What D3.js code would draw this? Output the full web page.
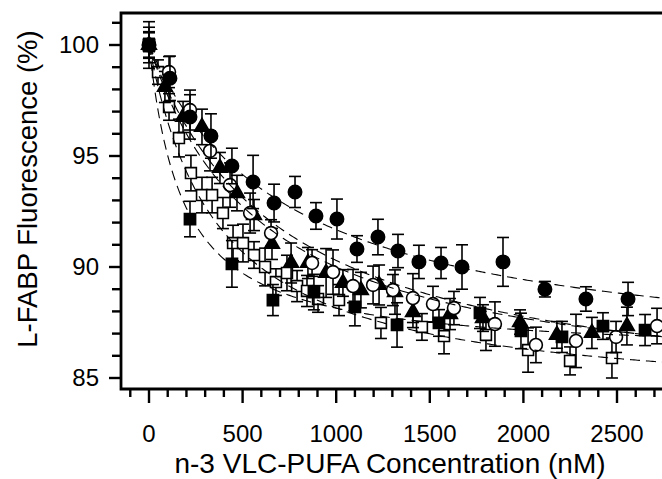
<!DOCTYPE html>
<html>
<head>
<meta charset="utf-8">
<script src="https://cdn.jsdelivr.net/npm/d3@7/dist/d3.min.js"></script>
<style>
  html, body { margin: 0; padding: 0; background: #fff; }
  svg { display: block; font-family: "Liberation Sans", Arial, Helvetica, sans-serif; }
</style>
</head>
<body>
<div id="chart"></div>
<script>
'use strict';

// filled circles
const fcX = [0, 112, 219, 331, 443, 556, 668, 780, 892, 1004, 1111, 1223, 1330, 1442, 1560, 1672, 1891, 2115, 2334, 2559];
const fcY = [100, 98.5, 96.76, 95.9, 94.55, 93.83, 92.88, 93.38, 92.3, 92.16, 90.81, 91.35, 90.72, 90.23, 90.18, 90.0, 90.23, 89.0, 88.56, 88.56];
const fcErr = [1.05, 1.0, 1.0, 1.0, 0.8, 1.2, 0.85, 0.7, 0.6, 0.9, 0.6, 0.8, 0.75, 0.75, 0.7, 1.0, 1.1, 0.35, 0.55, 0.75];

// open circles
const ocX = [0, 107, 219, 326, 433, 540, 652, 871, 983, 1090, 1197, 1303, 1410, 1517, 1629, 1848, 2067, 2281, 2495, 2714];
const ocY = [100, 98.78, 97.07, 95.23, 93.69, 92.43, 91.53, 90.18, 89.77, 89.14, 89.19, 88.96, 88.6, 88.33, 88.15, 87.43, 86.49, 86.67, 86.85, 87.34];
const ocErr = [0.8, 0.7, 0.9, 0.9, 1.0, 0.9, 0.6, 0.6, 1.0, 0.75, 0.85, 0.7, 1.1, 0.8, 0.75, 1.0, 0.8, 1.2, 0.7, 0.8];

// filled triangles
const trX = [0, 85, 182, 283, 379, 470, 561, 657, 759, 849, 946, 1036, 1132, 1229, 1314, 1410, 1608, 1784, 1982, 2179, 2366, 2553];
const trY = [100, 98.11, 96.76, 96.31, 94.46, 93.33, 92.34, 91.04, 90.18, 90.18, 89.73, 89.28, 88.96, 89.19, 88.87, 87.97, 87.88, 87.7, 87.52, 86.94, 87.03, 87.34];
const trErr = [0.55, 0.7, 0.7, 0.8, 0.7, 0.8, 0.7, 0.7, 0.9, 0.7, 1.1, 0.6, 0.8, 0.9, 1.0, 0.7, 0.7, 0.6, 0.55, 0.6, 0.7, 0.85];

// filled squares
const fsX = [0, 219, 443, 662, 881, 1100, 1325, 1549, 1768, 1987, 2206, 2425, 2650];
const fsY = [100, 92.16, 90.14, 88.51, 88.87, 88.2, 87.39, 87.48, 87.93, 87.12, 86.85, 87.34, 87.16];
const fsErr = [0.3, 0.8, 1.05, 0.7, 0.8, 0.85, 1.0, 0.6, 0.7, 0.8, 0.7, 0.6, 0.7];

// open squares
const osX = [0, 48, 107, 160, 224, 283, 337, 395, 449, 502, 561, 620, 678, 737, 791, 844, 903, 1015, 1239, 1458, 1576, 1800, 2025, 2249, 2473];
const osY = [100, 98.78, 97.21, 95.81, 94.23, 93.24, 93.24, 92.43, 91.08, 91.08, 90.54, 90.0, 89.32, 89.73, 89.14, 88.92, 88.56, 88.51, 87.48, 87.3, 86.89, 86.94, 86.26, 85.77, 85.9];
const osErr = [0.6, 0.55, 0.6, 0.85, 0.8, 0.8, 0.8, 0.7, 0.8, 0.85, 0.6, 0.85, 0.6, 0.8, 0.7, 0.7, 0.6, 0.7, 0.7, 0.6, 0.8, 0.7, 1.0, 0.63, 0.9];

// hyperbolic fit parameters [Bmax, K] : y = 100 - Bmax * x / (K + x)
const fitParams = [
  [14.47, 739],  // filled circles
  [16.0, 600],   // open circles
  [16.5, 700],   // triangles
  [14.0, 181],   // filled squares
  [16.2, 368]    // open squares
];

const xTicks = [0, 500, 1000, 1500, 2000, 2500];
const yTicks = [85, 90, 95, 100];

const W = 662, H = 479;
const frame = {left: 121, top: 13, bottom: 389, right: 720};

const x = d3.scaleLinear().domain([0, 2500]).range([149, 617]);
const y = d3.scaleLinear().domain([85, 100]).range([378, 45]);

const svg = d3.select('#chart').append('svg')
    .attr('width', W)
    .attr('height', H);

const series = [
  {xs: osX, ys: osY, err: osErr, sym: d3.symbolSquare, size: 118, open: true},
  {xs: fsX, ys: fsY, err: fsErr, sym: d3.symbolSquare, size: 125, open: false},
  {xs: trX, ys: trY, err: trErr, sym: d3.symbolTriangle, size: 95, open: false},
  {xs: ocX, ys: ocY, err: ocErr, sym: d3.symbolCircle, size: 130, open: true},
  {xs: fcX, ys: fcY, err: fcErr, sym: d3.symbolCircle, size: 140, open: false}
];

// error bars + markers
series.forEach(s => {
  const pts = s.xs.map((v, i) => ({x: v, y: s.ys[i], e: s.err[i]}));
  const g = svg.append('g');
  const eb = g.selectAll('g.eb').data(pts).enter().append('g')
      .attr('stroke', '#000')
      .attr('stroke-width', 1.6);
  eb.append('line')
      .attr('x1', d => x(d.x)).attr('x2', d => x(d.x))
      .attr('y1', d => y(d.y - d.e)).attr('y2', d => y(d.y + d.e));
  eb.append('line')
      .attr('x1', d => x(d.x) - 6).attr('x2', d => x(d.x) + 6)
      .attr('y1', d => y(d.y + d.e)).attr('y2', d => y(d.y + d.e));
  eb.append('line')
      .attr('x1', d => x(d.x) - 6).attr('x2', d => x(d.x) + 6)
      .attr('y1', d => y(d.y - d.e)).attr('y2', d => y(d.y - d.e));

  g.selectAll('path.mk').data(pts).enter().append('path')
      .attr('d', d3.symbol().type(s.sym).size(s.size))
      .attr('transform', d => `translate(${x(d.x)},${y(d.y)})`)
      .attr('fill', s.open ? '#fff' : '#000')
      .attr('stroke', '#000')
      .attr('stroke-width', 1.6);
});

// fit curves, dashed, on top
const line = d3.line().x(d => x(d[0])).y(d => y(d[1]));
const xs = d3.range(0, 2801, 10);
fitParams.forEach(p => {
  svg.append('path')
      .datum(xs.map(v => [v, 100 - p[0] * v / (p[1] + v)]))
      .attr('d', line)
      .attr('fill', 'none')
      .attr('stroke', '#000')
      .attr('stroke-width', 1.1)
      .attr('stroke-dasharray', '10,6');
});

// frame
svg.append('path')
    .attr('d', `M${frame.right},${frame.top}H${frame.left}V${frame.bottom}H${frame.right}`)
    .attr('fill', 'none')
    .attr('stroke', '#000')
    .attr('stroke-width', 2.8);

// y ticks
const yMinor = d3.range(85, 102, 1);
svg.append('g').selectAll('line').data(yMinor).enter().append('line')
    .attr('x1', d => frame.left - (d % 5 === 0 ? 12 : 9))
    .attr('x2', frame.left)
    .attr('y1', d => y(d)).attr('y2', d => y(d))
    .attr('stroke', '#000').attr('stroke-width', 2.4);
svg.append('g').selectAll('text').data(yTicks).enter().append('text')
    .attr('x', 99)
    .attr('y', d => y(d))
    .attr('dy', '0.35em')
    .attr('text-anchor', 'end')
    .attr('font-size', 24)
    .text(d => d);

// x ticks
const xMinor = d3.range(-100, 2801, 100);
svg.append('g').selectAll('line').data(xMinor).enter().append('line')
    .attr('x1', d => x(d)).attr('x2', d => x(d))
    .attr('y1', frame.bottom)
    .attr('y2', d => frame.bottom + (d % 500 === 0 ? 14 : 8))
    .attr('stroke', '#000').attr('stroke-width', 2.4);
svg.append('g').selectAll('text').data(xTicks).enter().append('text')
    .attr('x', d => x(d))
    .attr('y', 442)
    .attr('text-anchor', 'middle')
    .attr('font-size', 24)
    .text(d => d);

// axis titles
svg.append('text')
    .attr('x', 390).attr('y', 473)
    .attr('text-anchor', 'middle')
    .attr('font-size', 28)
    .text('n-3 VLC-PUFA Concentration (nM)');
svg.append('text')
    .attr('transform', 'translate(37,189) rotate(-90)')
    .attr('text-anchor', 'middle')
    .attr('font-size', 27.5)
    .text('L-FABP Fluorescence (%)');
</script>
</body>
</html>
